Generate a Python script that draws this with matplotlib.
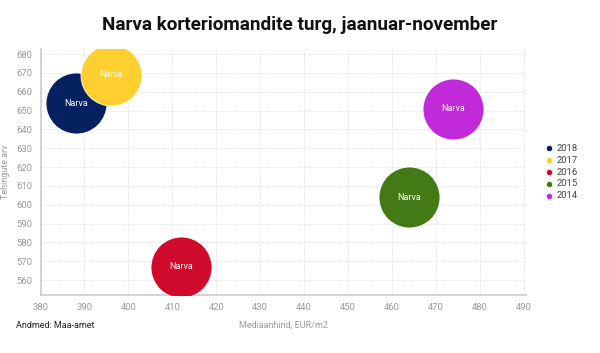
import matplotlib.pyplot as plt

years = ["2018", "2017", "2016", "2015", "2014"]
price = [388, 396, 412, 464, 474]
deals = [654, 669, 567, 604, 651]
colors = ["#06215f", "#fecf2f", "#cf0a2c", "#437a15", "#c12ad9"]
label = "Narva"

plt.rcParams['font.family'] = ['Roboto', 'DejaVu Sans']

fig = plt.figure(figsize=(6, 3.53), dpi=100)
ax = fig.add_axes([0.0675, 0.164, 0.809, 0.697])

for yr, x, y, c in zip(years, price, deals, colors):
    ax.scatter([x], [y], s=1930, color=c, edgecolor="white", linewidth=0.6,
               label=yr, zorder=3)
    ax.text(x, y, label, color="white", fontsize=6.5, ha="center", va="center",
            zorder=4)

ax.set_xlim(380, 490.5)
ax.set_ylim(552, 682.7)
ax.set_xticks(range(380, 491, 10))
ax.set_yticks(range(560, 681, 10))
ax.grid(True, color="#e2e2e2", linestyle=(0, (1, 1)), linewidth=0.7, zorder=0)
ax.set_axisbelow(True)
for s in ["top", "right"]:
    ax.spines[s].set_visible(False)
for s in ["left", "bottom"]:
    ax.spines[s].set_color("#cccccc")
    ax.spines[s].set_linewidth(1.2)
ax.tick_params(length=0, labelsize=6.8, labelcolor="#999999", pad=6)

ax.set_xlabel("Mediaanhind, EUR/m2", fontsize=6.5, color="#999999", labelpad=6)
ax.set_ylabel("Tehingute arv", fontsize=6.5, color="#999999")
ax.yaxis.set_label_coords(-0.062, 0.5)

fig.text(0.5, 0.93, "Narva korteriomandite turg, jaanuar-november",
         ha="center", va="center", fontsize=13.6, fontweight="bold", color="#111111")
fig.text(0.027, 0.077, "Andmed: Maa-amet", ha="left", va="center",
         fontsize=6.5, color="#222222")

leg = ax.legend(loc="center left", bbox_to_anchor=(1.02, 0.5), frameon=False,
                fontsize=6.8, markerscale=0.105, handletextpad=0.3,
                labelspacing=0.3, handlelength=1.0, scatterpoints=1)
for t in leg.get_texts():
    t.set_color("#444444")

fig.savefig("out.png", dpi=100)
